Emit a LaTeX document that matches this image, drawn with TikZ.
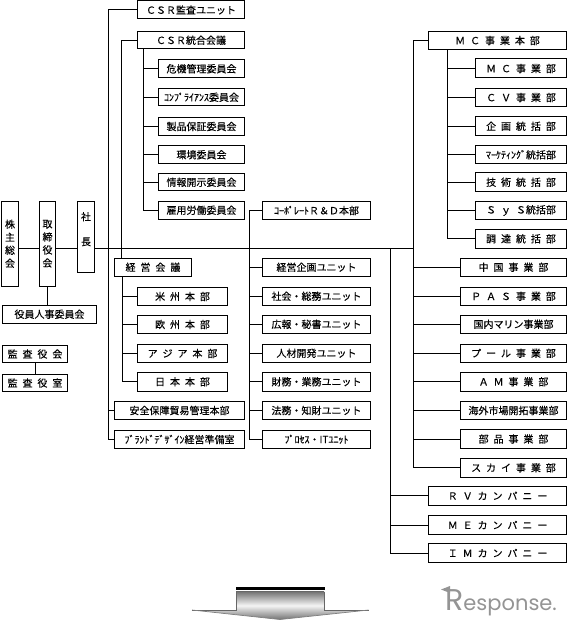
\documentclass[tikz,border=0pt]{standalone}
\usepackage{fontspec}
\setmainfont[WordSpace=2.2,FakeBold=0.25]{Noto Sans CJK JP}
\newfontfamily\logofont{Poppins}
\usetikzlibrary{calc}
\tikzset{
  box/.style={draw=black,fill=white,line width=1pt,inner sep=0pt,outer sep=0pt,font=\fontsize{10}{13}\selectfont,align=center},
  conn/.style={draw=black,line width=1pt},
}
% name, x1, y1, x2, y2, text
\newcommand{\bx}[6]{\node[box,minimum width=#4pt-#2pt,minimum height=#5pt-#3pt] (#1) at ({(#2+#4)/2},{(#3+#5)/2}) {#6};}
\begin{document}
\begin{tikzpicture}[x=1pt,y=-1pt]
\useasboundingbox (0,0) rectangle (568,620);
% left
\bx{kabu}{1.5}{201.5}{18.5}{286}{株\\主\\総\\会}
\bx{tori}{39.5}{201.5}{55.5}{286}{取\\締\\役\\会}
\bx{shacho}{77.5}{201.5}{94.5}{272}{社\\[12pt]長\\[3pt]\mbox{}}
\bx{yakuin}{2.5}{305.5}{96.5}{323}{役員人事委員会}
\bx{kansakai}{2.5}{345.5}{67.5}{362.5}{監 査 役 会}
\bx{kansashitsu}{2.5}{374.5}{67.5}{391.5}{監 査 役 室}
% CSR
\bx{csra}{137.5}{1}{244.5}{19}{ＣＳＲ監査ユニット}
\bx{csrg}{137.5}{31.5}{244.5}{49}{ＣＳＲ統合会議}
\bx{kiki}{158.5}{59.5}{244.5}{78}{危機管理委員会}
\bx{comp}{158.5}{88.5}{244.5}{106}{ｺﾝﾌﾟﾗｲｱﾝｽ委員会}
\bx{seihin}{158.5}{117.5}{244.5}{135.5}{製品保証委員会}
\bx{kankyo}{158.5}{145.5}{244.5}{164}{環境委員会}
\bx{joho}{158.5}{173.5}{244.5}{191}{情報開示委員会}
\bx{koyo}{158.5}{201.5}{244.5}{219}{雇用労働委員会}
% keiei
\bx{keiei}{114.5}{258.5}{191.5}{276}{経 営 会 議}
\bx{beishu}{137.5}{287.5}{227.5}{305.5}{米 州 本 部}
\bx{oshu}{137.5}{315.5}{227.5}{333.5}{欧 州 本 部}
\bx{asia}{137.5}{344.5}{227.5}{362.5}{ア ジ ア 本 部}
\bx{nihon}{137.5}{372.5}{227.5}{391}{日 本 本 部}
\bx{anzen}{114.5}{401.5}{244.5}{419.5}{安全保障貿易管理本部}
\bx{brand}{114.5}{430.5}{244.5}{448.5}{ﾌﾞﾗﾝﾄﾞﾃﾞｻﾞｲﾝ経営準備室}
% middle
\bx{corp}{262.5}{201.5}{370.5}{219.5}{ｺｰﾎﾟﾚｰﾄＲ＆Ｄ本部}
\bx{kikaku}{262.5}{258.5}{370.5}{276}{経営企画ユニット}
\bx{shakai}{262.5}{287}{370.5}{305.5}{社会・総務ユニット}
\bx{koho}{262.5}{315}{370.5}{333.5}{広報・秘書ユニット}
\bx{jinzai}{262.5}{344}{370.5}{362.5}{人材開発ユニット}
\bx{zaimu}{262.5}{372.5}{370.5}{391}{財務・業務ユニット}
\bx{homu}{262.5}{401.5}{370.5}{419.5}{法務・知財ユニット}
\bx{process}{262.5}{430}{370.5}{448.5}{ﾌﾟﾛｾｽ・ITﾕﾆｯﾄ}
% MC
\bx{mch}{428.5}{31.5}{566.5}{49.5}{Ｍ Ｃ 事 業 本 部}
\bx{mc}{475.5}{59}{566.5}{78}{Ｍ Ｃ 事 業 部}
\bx{cv}{475.5}{88.5}{566.5}{106.5}{Ｃ Ｖ 事 業 部}
\bx{kik}{475.5}{117}{566.5}{135.5}{企 画 統 括 部}
\bx{mkt}{475.5}{145.5}{566.5}{164}{ﾏｰｹﾃｨﾝｸﾞ統括部}
\bx{gij}{475.5}{173}{566.5}{191.5}{技 術 統 括 部}
\bx{sys}{475.5}{201.5}{566.5}{219.5}{Ｓ ｙ Ｓ統括部}
\bx{cho}{475.5}{229.5}{566.5}{248}{調 達 統 括 部}
% right
\bx{chu}{460.5}{258.5}{566.5}{276}{中 国 事 業 部}
\bx{pas}{460.5}{287}{566.5}{305.5}{Ｐ Ａ Ｓ 事 業 部}
\bx{kokunai}{460.5}{315}{566.5}{333.5}{国内マリン事業部}
\bx{pool}{460.5}{344}{566.5}{362.5}{プ ー ル 事 業 部}
\bx{am}{460.5}{372.5}{566.5}{391}{Ａ Ｍ 事 業 部}
\bx{kaigai}{460.5}{401.5}{566.5}{419.5}{海外市場開拓事業部}
\bx{buhin}{460.5}{429.5}{566.5}{448.5}{部 品 事 業 部}
\bx{sky}{460.5}{458.5}{566.5}{477}{ス カ イ 事 業 部}
\bx{rv}{428.5}{486}{566.5}{505.5}{Ｒ Ｖ カ ン パ ニ ー}
\bx{me}{428.5}{515.5}{566.5}{534.5}{Ｍ Ｅ カ ン パ ニ ー}
\bx{im}{428.5}{543.5}{566.5}{562.5}{Ｉ Ｍ カ ン パ ニ ー}
% bus junctions
\coordinate (j1) at (108.5,248);
\coordinate (j2) at (249.5,248);
\coordinate (j3) at (390.5,248);
\coordinate (j4) at (413.5,248);
\coordinate (keieiTop) at (121.5,258.5);
\coordinate (csrT) at (143.5,49);
\coordinate (keieiB) at (122.5,276);
\coordinate (mchB) at (447.5,49.5);
\coordinate (toriB) at (47.5,286);
\coordinate (yakuinT) at (47.5,305.5);
% connectors
\draw[conn] (kabu.east|-j1) -- (tori.west|-j1);
\draw[conn] (tori.east|-j1) -- (shacho.west|-j1);
\draw[conn] (shacho.east|-j1) -- (j4);
\draw[conn] (toriB) -- (yakuinT);
\draw[conn] (kansakai.south) -- (kansashitsu.north);
\foreach \n in {csra,anzen,brand}{\draw[conn] (j1) |- (\n.west);}
\draw[conn] (csrg.west) -| (keieiTop);
\foreach \n in {kiki,comp,seihin,kankyo,joho,koyo}{\draw[conn] (csrT) |- (\n.west);}
\foreach \n in {beishu,oshu,asia,nihon}{\draw[conn] (keieiB) |- (\n.west);}
\foreach \n in {corp,kikaku,shakai,koho,jinzai,zaimu,homu,process}{\draw[conn] (j2) |- (\n.west);}
\foreach \n in {rv,me,im}{\draw[conn] (j3) |- (\n.west);}
\foreach \n in {mch,chu,pas,kokunai,pool,am,kaigai,buhin,sky}{\draw[conn] (j4) |- (\n.west);}
\foreach \n in {mc,cv,kik,mkt,gij,sys,cho}{\draw[conn] (mchB) |- (\n.west);}
% arrow
\shade[top color=black!55,bottom color=black!55,middle color=black!4]
  (236,591.5) -- (324,591.5) -- (324,610) -- (368.5,610) -- (280,619.5) -- (192,610) -- (236,610) -- cycle;
\draw[line width=1pt,draw=black!60] (324,591.5) -- (236,591.5) -- (236,610) -- (192,610) (324,591.5) -- (324,610) -- (368.5,610);
\draw[line width=.7pt,draw=black!50] (192,610) -- (280,619.5) -- (368.5,610);
\draw[line width=2.6pt] (236,588.4) -- (325,588.4);
% logo
\node[anchor=base west,inner sep=0pt,text=black!42,font=\logofont\fontsize{21}{21}\selectfont] (logo) at (445,610.5) {{\fontsize{30}{30}\selectfont R}esponse.};
\fill[black!42] (441,589.5) -- (450,586) -- (450,593) -- cycle;
\end{tikzpicture}
\end{document}
